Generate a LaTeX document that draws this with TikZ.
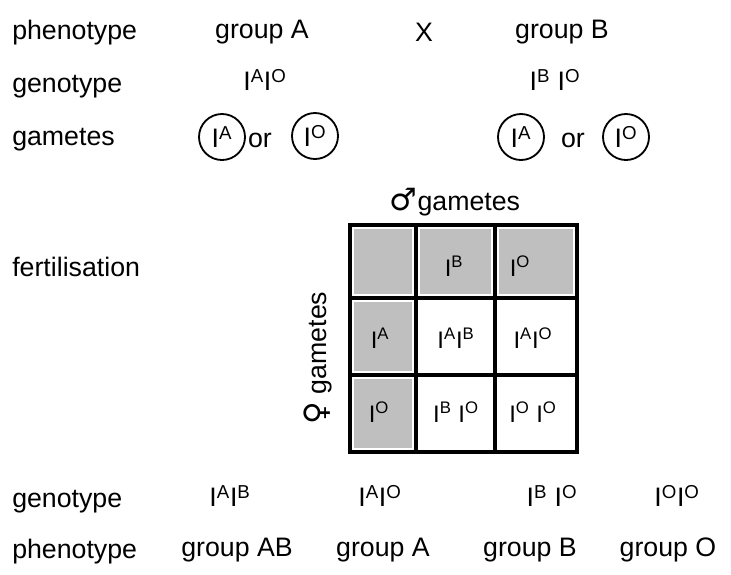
\documentclass[tikz,border=0pt]{standalone}
\usepackage{fontspec}
\setmainfont{Liberation Sans}
\newfontfamily\symfont{DejaVu Sans}
\newcommand{\allele}[1]{I\textsuperscript{#1}}

\begin{document}
\begin{tikzpicture}[
    x=0.025cm, y=-0.025cm, every node/.style={font=\fontsize{19}{22}\selectfont, inner sep=0pt},
    rowLabel/.style={anchor=west},
    gameteNode/.style={circle, draw, line width=1.3pt, minimum size=1.15cm},
    cellGray/.style={fill=black!25, draw=none},
    gridLine/.style={draw, line width=2.2pt},
    cellText/.style={font=\fontsize{17}{20}\selectfont}
]
    \useasboundingbox (0,0) rectangle (731,574);

    % parents
    \node[rowLabel] (phenoTop) at (12,33) {phenotype};
    \node[rowLabel] (genoTop) at (12,87) {genotype};
    \node[rowLabel] (gameteLbl) at (12,140) {gametes};
    \node (groupA) at (262,32) {group A};
    \node (cross) at (424,32) {X};
    \node (groupB) at (562,32) {group B};
    \node (genoA) at (265,80) {\allele{A}\allele{O}};
    \node (genoB) at (555,80) {\allele{B} \allele{O}};

    \node[gameteNode] (gamA1) at (222,137) {\allele{A}};
    \node (orA) at (260,140) {or};
    \node[gameteNode] (gamA2) at (315,136) {\allele{O}};
    \node[gameteNode] (gamB1) at (521,137) {\allele{A}};
    \node (orB) at (573,140) {or};
    \node[gameteNode] (gamB2) at (626,137) {\allele{O}};

    % Punnett square
    \node[rowLabel] (fertLbl) at (12,267) {fertilisation};
    \node (maleLbl) at (455,202) {{\symfont\fontsize{22}{24}\selectfont ♂}gametes};
    \node[rotate=90] (femaleLbl) at (318,358) {{\symfont\fontsize{22}{24}\selectfont ♀} gametes};

    \fill[cellGray] (354,229) rectangle (412,294);
    \fill[cellGray] (420,229) rectangle (491,294);
    \fill[cellGray] (499,229) rectangle (573,294);
    \fill[cellGray] (354,302) rectangle (412,371);
    \fill[cellGray] (354,379) rectangle (412,448);

    \draw[gridLine] (350,225) rectangle (577,452);
    \foreach \xv in {416,495}
        \draw[gridLine] (\xv,225) -- (\xv,452);
    \foreach \yv in {298,375}
        \draw[gridLine] (350,\yv) -- (577,\yv);

    \node[cellText] (cB) at (454,266) {\allele{B}};
    \node[cellText] (cO) at (520,266) {\allele{O}};
    \node[cellText] (rA) at (380,338) {\allele{A}};
    \node[cellText] (rO) at (379,412) {\allele{O}};
    \node[cellText] (cAB) at (456,338) {\allele{A}\allele{B}};
    \node[cellText] (cAO) at (533,338) {\allele{A}\allele{O}};
    \node[cellText] (cBO) at (456,412) {\allele{B} \allele{O}};
    \node[cellText] (cOO) at (533,412) {\allele{O} \allele{O}};

    % offspring
    \node[rowLabel] (genoBot) at (12,502) {genotype};
    \node[rowLabel] (phenoBot) at (12,552) {phenotype};
    \node (kidAB) at (230,496) {\allele{A}\allele{B}};
    \node (kidAO) at (380,496) {\allele{A}\allele{O}};
    \node (kidBO) at (552,496) {\allele{B} \allele{O}};
    \node (kidOO) at (677,496) {\allele{O}\allele{O}};
    \node (grpAB) at (237,550) {group AB};
    \node (grpA) at (383,550) {group A};
    \node (grpB) at (530,550) {group B};
    \node (grpO) at (668,550) {group O};
\end{tikzpicture}
\end{document}
